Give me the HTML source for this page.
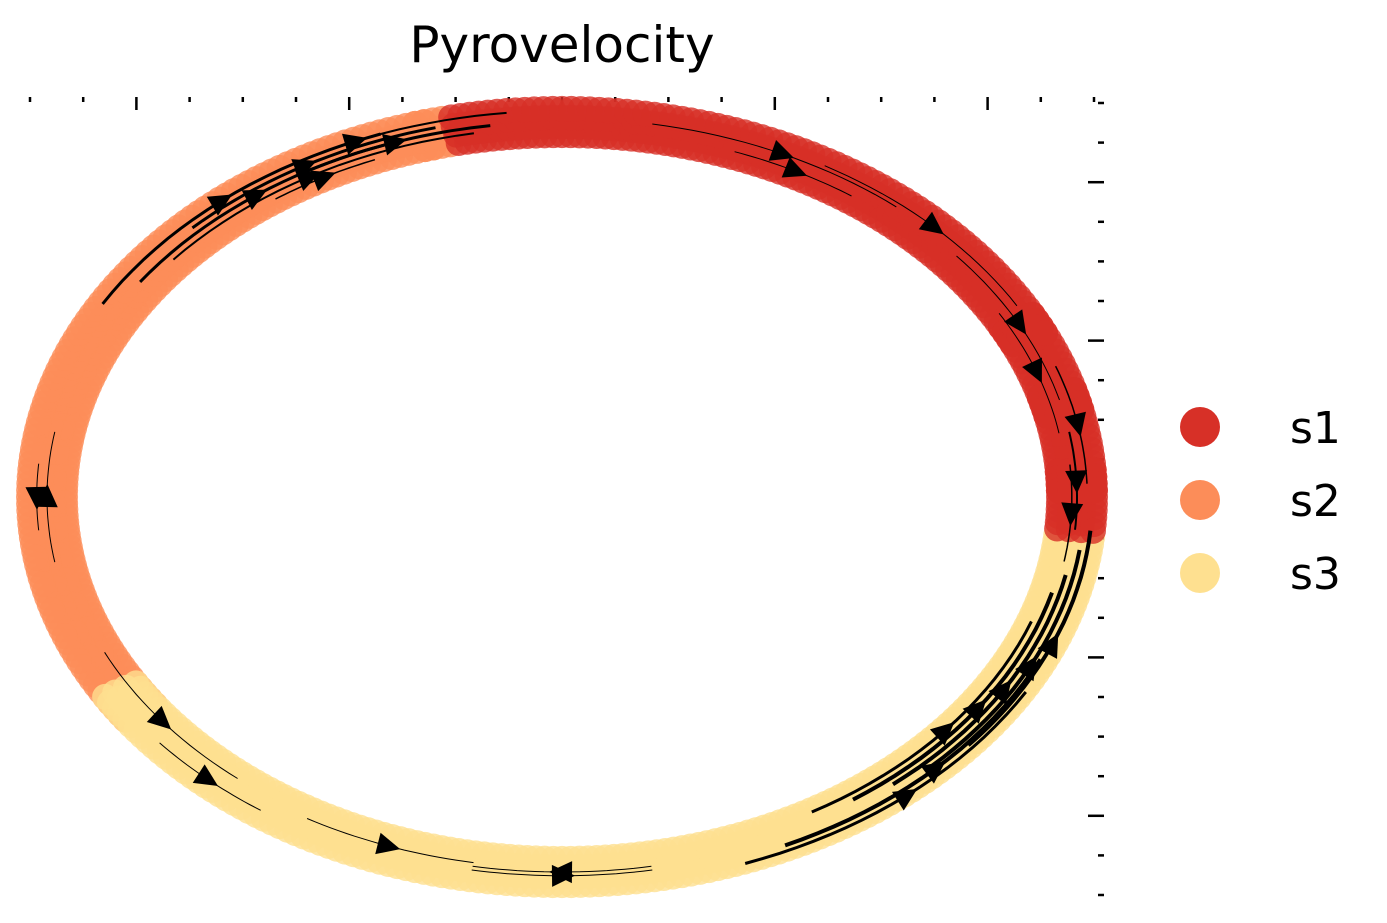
<!DOCTYPE html>
<html><head><meta charset="utf-8"><style>
body{margin:0;background:#fff;}
svg{display:block;font-family:"Liberation Sans","DejaVu Sans",sans-serif;}
</style></head><body>
<svg id="chart" width="1387" height="923" viewBox="0 0 1387 923">
<text x="562" y="62" font-size="50" text-anchor="middle" font-family="DejaVu Sans, sans-serif">Pyrovelocity</text>
<g id="ticks"></g>
<g id="points"></g>
<g id="streams"></g>
<g id="legend"></g>
</svg>
<script>
// Cluster angles (degrees on embedding ellipse, 0 = right, 90 = bottom)
const s1Angles=[-102,-98,-94,-90,-86,-82,-78,-74,-70,-66,-62,-58,-54,-50,-46,-42,-38,-34,-30,-26,-22,-18,-14,-10,-6,-2,2,-28,-16,-4];
const s2Angles=[-168,-164,-160,-156,-152,-148,-144,-140,-136,-132,-128,-124,-120,-116,-112,-108,-106,-172,-176,180,176,172,168,164,160,156,152,148,145];
const s3Angles=[146,142,138,134,130,126,122,118,114,110,106,102,98,94,90,86,82,78,74,70,66,62,58,54,50,46,42,38,34,30,26,22,18,14,10,6];
const radialOffsets=[-0.035,-0.012,0.012,0.035];
const clusterNames=["s1","s2","s3"];
const clusterColors=["#d73027","#fc8d59","#fee090"];
// streamline arcs: start angle, end angle, radial offset
const streamStarts=[-150,-145,-140,-135,-130,-125,-120,-80,-70,-60,-40,-30,-20,-10,-5,40,45,50,55,60,65,70,100,120,140,170,-175,155,80];
const streamEnds=[-110,-108,-100,-104,-96,-112,-98,-50,-55,-30,-15,-10,-2,5,10,5,8,12,15,20,25,30,80,100,125,190,-185,130,100];
const streamOffsets=[0.03,0.0,-0.015,0.015,0.03,-0.03,0.0,0.01,-0.02,0.02,0.0,-0.02,0.02,0.0,-0.01,0.03,0.015,0.0,-0.015,-0.03,0.025,0.04,0.01,-0.01,0.02,0.0,0.02,-0.02,0.0];
const streamWidths=[3,3,2,3,2,1.5,3,1,1,1,1,1,1.5,2,1.5,4,4,4,4,3,4,3,1,1,1,1,1,1,1];

const NS="http://www.w3.org/2000/svg";
const cx=562, cy=497, rx=515, ry=375;
function ex(a,o){return cx+rx*(1+o)*Math.cos(a*Math.PI/180);}
function ey(a,o){return cy+ry*(1+o)*Math.sin(a*Math.PI/180);}

const ticks=document.getElementById('ticks');
for(let i=0;i<21;i++){
  const x=30+i*53.2; const major=(i%4===2);
  const l=document.createElementNS(NS,'line');
  l.setAttribute('x1',x);l.setAttribute('x2',x);l.setAttribute('y1',97);l.setAttribute('y2',major?110:102);
  l.setAttribute('stroke','#000');l.setAttribute('stroke-width',2.5);
  
  
  ticks.appendChild(l);
}
for(let i=0;i<21;i++){
  const y=103+i*39.6; const major=(i%4===2);
  const l=document.createElementNS(NS,'line');
  l.setAttribute('y1',y);l.setAttribute('y2',y);l.setAttribute('x1',1104);l.setAttribute('x2',major?1088:1098);
  l.setAttribute('stroke','#000');l.setAttribute('stroke-width',2.5);
  
  
  ticks.appendChild(l);
}

const pts=document.getElementById('points');
[s2Angles,s3Angles,s1Angles].forEach((arr,k)=>{
  const ci=[1,2,0][k];
  arr.forEach(a=>{
    radialOffsets.forEach(o=>{
      for(let d=0;d<4;d++){
        const c=document.createElementNS(NS,'circle');
        c.setAttribute('cx',ex(a+d,o));c.setAttribute('cy',ey(a+d,o));c.setAttribute('r',13);
        c.setAttribute('fill',clusterColors[ci]);c.setAttribute('fill-opacity',0.8);
        
        
        pts.appendChild(c);
      }
    });
  });
});

const st=document.getElementById('streams');
streamStarts.forEach((s,i)=>{
  const e=streamEnds[i], o=streamOffsets[i];
  let d='';
  const n=20;
  for(let j=0;j<=n;j++){const a=s+(e-s)*j/n;d+=(j?'L':'M')+ex(a,o).toFixed(1)+','+ey(a,o).toFixed(1);}
  const p=document.createElementNS(NS,'path');
  p.setAttribute('d',d);p.setAttribute('fill','none');p.setAttribute('stroke','#000');p.setAttribute('stroke-width',streamWidths[i]);
  
  
  st.appendChild(p);
  const am=(s+e)/2, a2=am+(e>s?1:-1)*2;
  const x1=ex(am,o),y1=ey(am,o),x2=ex(a2,o),y2=ey(a2,o);
  const ang=Math.atan2(y2-y1,x2-x1)*180/Math.PI;
  const t=document.createElementNS(NS,'polygon');
  t.setAttribute('points','13,0 -10,-11 -10,11');
  t.setAttribute('transform','translate('+x1.toFixed(1)+','+y1.toFixed(1)+') rotate('+ang.toFixed(1)+')');
  t.setAttribute('fill','#000');
  
  
  st.appendChild(t);
});

const lg=document.getElementById('legend');
clusterNames.forEach((nm,i)=>{
  const y=427+i*73;
  const c=document.createElementNS(NS,'circle');
  c.setAttribute('cx',1200);c.setAttribute('cy',y);c.setAttribute('r',20);c.setAttribute('fill',clusterColors[i]);
  
  
  lg.appendChild(c);
  const t=document.createElementNS(NS,'text');
  t.setAttribute('x',1290);t.setAttribute('y',y+16);t.setAttribute('font-size',44);
  t.setAttribute('font-family','DejaVu Sans, sans-serif');
  t.textContent=nm;
  
  
  lg.appendChild(t);
});
</script>
</body></html>
